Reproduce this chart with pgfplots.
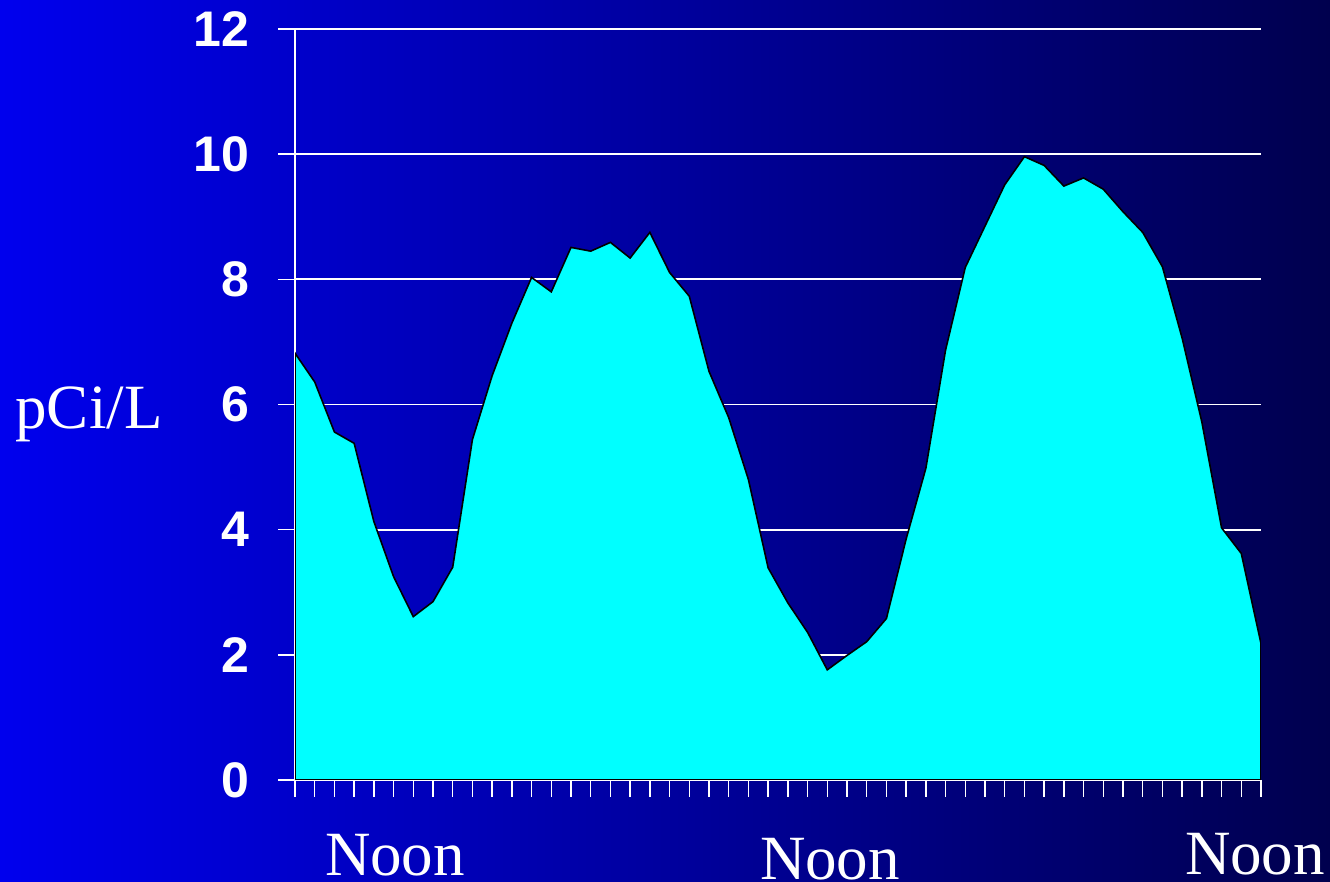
\documentclass[border=0pt]{standalone}
\usepackage{fontspec}
\setmainfont{Liberation Serif}
\setsansfont{Liberation Sans}
\usepackage{pgfplots}
\usepackage{pgfplotstable}
\pgfplotsset{compat=1.18}
\pgfplotsset{layers/mylayers/.define layer set={axis background,axis grid,pre main,main,axis ticks,axis lines,axis tick labels,axis descriptions,axis foreground}{}}
\definecolor{bgleft}{RGB}{0,0,238}
\definecolor{bgright}{RGB}{0,0,78}
\definecolor{aqua}{RGB}{0,255,255}
\pgfplotstableread{
x y
0 6.82
1 6.36
2 5.56
3 5.38
4 4.13
5 3.25
6 2.61
7 2.85
8 3.40
9 5.44
10 6.46
11 7.30
12 8.03
13 7.80
14 8.51
15 8.45
16 8.59
17 8.34
18 8.75
19 8.11
20 7.73
21 6.53
22 5.79
23 4.80
24 3.39
25 2.83
26 2.36
27 1.76
28 1.99
29 2.21
30 2.58
31 3.85
32 4.98
33 6.87
34 8.19
35 8.85
36 9.51
37 9.96
38 9.82
39 9.49
40 9.62
41 9.44
42 9.08
43 8.75
44 8.20
45 7.06
46 5.72
47 4.03
48 3.62
49 2.18
}\radon
\begin{document}
\begin{tikzpicture}
\shade[left color=bgleft, right color=bgright] (0,0) rectangle (665pt,441pt);
\begin{axis}[
  set layers=mylayers,
  at={(147.5pt,51pt)}, anchor=south west,
  scale only axis, width=483pt, height=375.5pt,
  xmin=0, xmax=49, ymin=0, ymax=12,
  axis x line*=bottom, axis y line*=left,
  axis line style={-, white, line width=1pt},
  xtick={0,...,49}, xticklabels={},
  ytick={0,2,...,12},
  tick align=outside, major tick length=8.5pt,
  tick style={white, line width=0.7pt},
  ymajorgrids, grid style={white, line width=0.85pt},
  /pgf/number format/assume math mode=true,
  yticklabel style={font=\fontsize{25}{30}\selectfont\sffamily\bfseries, text=white, xshift=-11pt},
]
\addplot[fill=aqua, draw=black, line width=0.8pt] table {\radon} \closedcycle;
\end{axis}
\node[text=white, font=\fontsize{31.5}{36}\selectfont, anchor=base, inner sep=0pt] at (44.5pt,226.5pt) {pCi/L};
\node[text=white, font=\fontsize{31.5}{36}\selectfont, anchor=base, inner sep=0pt] at (197.5pt,3pt) {Noon};
\node[text=white, font=\fontsize{31.5}{36}\selectfont, anchor=base, inner sep=0pt] at (415pt,1pt) {Noon};
\node[text=white, font=\fontsize{31.5}{36}\selectfont, anchor=base, inner sep=0pt] at (627.5pt,3.5pt) {Noon};
\pgfresetboundingbox
\useasboundingbox (0,0) rectangle (665pt,441pt);
\end{tikzpicture}
\end{document}
